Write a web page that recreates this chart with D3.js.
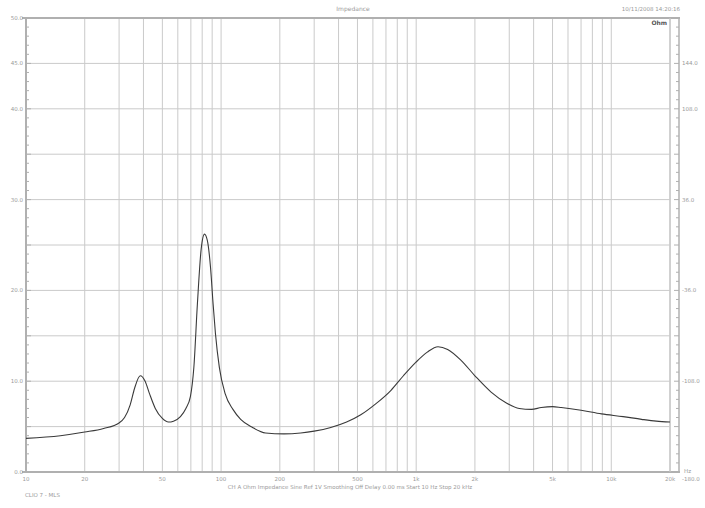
<!DOCTYPE html>
<html>
<head>
<meta charset="utf-8">
<script src="https://cdn.jsdelivr.net/npm/d3@7"></script>
<style>
  html, body { margin: 0; padding: 0; background: #fff; }
  svg { display: block; font-family: "DejaVu Sans", sans-serif; }
</style>
</head>
<body>
<svg id="chart" width="705" height="508"></svg>
<script>
// ---- data ----
const freqHz = [10, 15, 20, 25, 30, 32, 34.2, 36, 38.5, 40.8, 43, 46, 50, 53.7, 57, 61.9, 66, 69.6, 72.5, 75.6, 79, 82.2, 85, 88.3, 91, 93.6, 98, 105, 115, 126, 145, 169, 210, 256, 300, 365, 440, 520, 620, 743, 860, 998, 1140, 1294, 1450, 1698, 2000, 2421, 2900, 3374, 3900, 4375, 5000, 5543, 7000, 8910, 11500, 14300, 17000, 20000];
const impedance = [3.7, 4.0, 4.4, 4.8, 5.4, 6.0, 7.4, 9.2, 10.6, 10.0, 8.6, 7.0, 5.9, 5.5, 5.6, 6.1, 7.0, 8.3, 11.5, 18.5, 24.5, 26.2, 25.5, 22.5, 18.5, 15.2, 11.5, 8.6, 6.9, 5.8, 4.9, 4.3, 4.2, 4.3, 4.5, 4.9, 5.5, 6.3, 7.5, 9.0, 10.6, 12.1, 13.2, 13.8, 13.5, 12.3, 10.6, 8.8, 7.6, 7.0, 6.9, 7.1, 7.2, 7.1, 6.8, 6.4, 6.1, 5.8, 5.6, 5.5];

const xTickValues = [10, 20, 50, 100, 200, 500, 1000, 2000, 5000, 10000, 20000];
const xTickLabels = ["10", "20", "50", "100", "200", "500", "1k", "2k", "5k", "10k", "20k"];
const leftTickValues = [50, 45, 40, 30, 20, 10, 0];
const leftTickLabels = ["50.0", "45.0", "40.0", "30.0", "20.0", "10.0", "0.0"];
const rightTickValues = [45, 40, 30, 20, 10, 0];
const rightTickLabels = ["144.0", "108.0", "36.0", "-36.0", "-108.0", "-180.0"];

const titleText = "Impedance";
const dateText = "10/11/2008 14:20:16";
const cornerText = "Ohm";
const captionText = "CH A   Ohm   Impedance   Sine   Ref 1V   Smoothing Off   Delay 0.00 ms   Start 10 Hz   Stop 20 kHz";
const footText = "CLIO 7 - MLS";

// ---- layout ----
const svg = d3.select("#chart");
const L = 26, R = 670, T = 18, B = 472;
const x = d3.scaleLog().domain([10, 20000]).range([L, R]);
const y = d3.scaleLinear().domain([0, 50]).range([B, T]);

const gridColor = "#cacaca";
const axisColor = "#b0b0b0";
const textColor = "#9a9a9a";

// vertical grid (1..9 per decade)
const vGrid = [];
[10, 100, 1000, 10000].forEach(d => {
  for (let k = 1; k <= 9; k++) { const f = d * k; if (f > 10 && f <= 20000) vGrid.push(f); }
});
vGrid.push(20000);
svg.append("g").selectAll("line").data(vGrid).join("line")
  .attr("x1", d => x(d)).attr("x2", d => x(d))
  .attr("y1", T).attr("y2", B)
  .attr("stroke", gridColor).attr("stroke-width", 1);

// horizontal grid
const hGrid = d3.range(0, 51, 5);
svg.append("g").selectAll("line").data(hGrid).join("line")
  .attr("x1", L).attr("x2", R)
  .attr("y1", d => y(d)).attr("y2", d => y(d))
  .attr("stroke", gridColor).attr("stroke-width", 1);

// frame
svg.append("line").attr("x1", L - 4).attr("x2", R + 10).attr("y1", T).attr("y2", T)
  .attr("stroke", axisColor).attr("stroke-width", 2);
svg.append("line").attr("x1", L - 4).attr("x2", R + 10).attr("y1", B).attr("y2", B)
  .attr("stroke", axisColor).attr("stroke-width", 2);
svg.append("line").attr("x1", L).attr("x2", L).attr("y1", T).attr("y2", B)
  .attr("stroke", axisColor).attr("stroke-width", 2);
svg.append("line").attr("x1", R).attr("x2", R).attr("y1", T).attr("y2", B)
  .attr("stroke", gridColor).attr("stroke-width", 1);
svg.append("line").attr("x1", R + 9).attr("x2", R + 9).attr("y1", T).attr("y2", B)
  .attr("stroke", axisColor).attr("stroke-width", 1.5);

// minor ticks on left and right axes
const minor = d3.range(0, 50.01, 1);
svg.append("g").selectAll("line").data(minor).join("line")
  .attr("x1", L).attr("x2", d => L + (d % 5 === 0 ? 5 : 3))
  .attr("y1", d => y(d)).attr("y2", d => y(d))
  .attr("stroke", axisColor).attr("stroke-width", 1);
svg.append("g").selectAll("line").data(minor).join("line")
  .attr("x1", R + 9).attr("x2", d => R + 9 - (d % 5 === 0 ? 5 : 3))
  .attr("y1", d => y(d)).attr("y2", d => y(d))
  .attr("stroke", axisColor).attr("stroke-width", 1);

// x labels
svg.append("g").selectAll("text").data(xTickValues).join("text")
  .attr("x", d => x(d)).attr("y", B + 9)
  .attr("text-anchor", "middle").attr("font-size", 5.5).attr("fill", textColor)
  .text((d, i) => xTickLabels[i]);
svg.append("text").attr("x", R + 14).attr("y", B + 1).attr("font-size", 5.5)
  .attr("fill", textColor).text("Hz");

// left labels
svg.append("g").selectAll("text").data(leftTickValues).join("text")
  .attr("x", L - 3).attr("y", d => y(d) + 2)
  .attr("text-anchor", "end").attr("font-size", 5.5).attr("fill", textColor)
  .text((d, i) => leftTickLabels[i]);

// right labels (bottom one sits just below the Hz unit)
svg.append("g").selectAll("text").data(rightTickValues).join("text")
  .attr("x", R + 12).attr("y", d => y(d) + (d === 0 ? 9 : 2))
  .attr("text-anchor", "start").attr("font-size", 5.5).attr("fill", textColor)
  .text((d, i) => rightTickLabels[i]);

// titles
svg.append("text").attr("x", 353).attr("y", 11).attr("text-anchor", "middle")
  .attr("font-size", 6).attr("fill", textColor).text(titleText);
svg.append("text").attr("x", 680).attr("y", 11).attr("text-anchor", "end")
  .attr("font-size", 5.5).attr("fill", textColor).text(dateText);
svg.append("text").attr("x", 667).attr("y", 25).attr("text-anchor", "end")
  .attr("font-size", 6).attr("font-weight", "bold").attr("fill", "#555").text(cornerText);
svg.append("text").attr("x", 350).attr("y", 489).attr("text-anchor", "middle")
  .attr("font-size", 5.5).attr("fill", textColor).text(captionText);
svg.append("text").attr("x", 25).attr("y", 497).attr("text-anchor", "start")
  .attr("font-size", 5.5).attr("fill", textColor).text(footText);

// curve
const pts = freqHz.map((f, i) => [f, impedance[i]]);
const line = d3.line().x(d => x(d[0])).y(d => y(d[1])).curve(d3.curveMonotoneX);
svg.append("path").datum(pts).attr("d", line)
  .attr("fill", "none").attr("stroke", "#3a3a3a").attr("stroke-width", 1.1);
</script>
</body>
</html>
